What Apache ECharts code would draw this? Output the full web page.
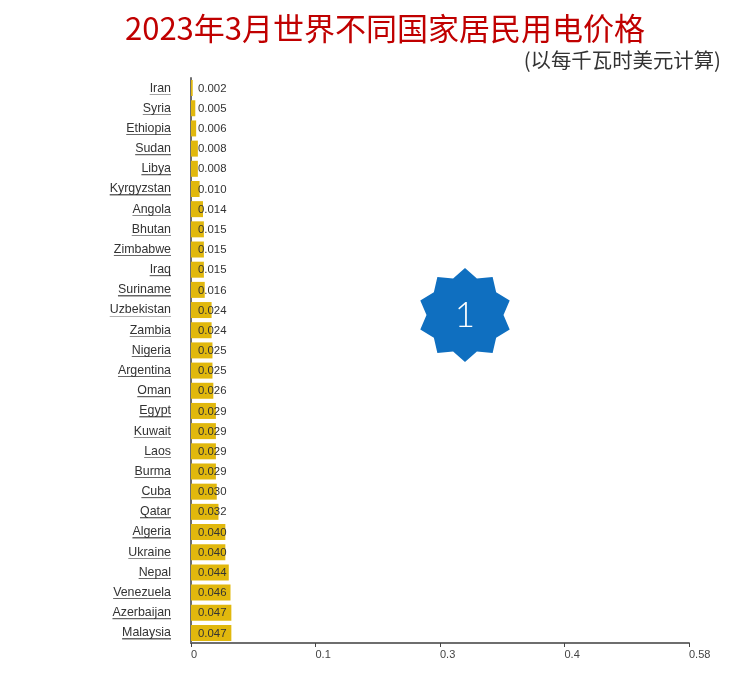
<!DOCTYPE html>
<html>
<head>
<meta charset="utf-8">
<title>2023年3月世界不同国家居民用电价格</title>
<style>
  html, body { margin: 0; padding: 0; background: #fff; }
  #main { width: 750px; height: 678px; }
</style>
<script src="https://cdn.jsdelivr.net/npm/echarts@6/dist/echarts.min.js"></script>
</head>
<body>
<div id="main"></div>
<script>
var countries = ['Iran', 'Syria', 'Ethiopia', 'Sudan', 'Libya', 'Kyrgyzstan', 'Angola', 'Bhutan', 'Zimbabwe', 'Iraq',
  'Suriname', 'Uzbekistan', 'Zambia', 'Nigeria', 'Argentina', 'Oman', 'Egypt', 'Kuwait', 'Laos', 'Burma',
  'Cuba', 'Qatar', 'Algeria', 'Ukraine', 'Nepal', 'Venezuela', 'Azerbaijan', 'Malaysia'];
var prices = [0.002, 0.005, 0.006, 0.008, 0.008, 0.010, 0.014, 0.015, 0.015, 0.015,
  0.016, 0.024, 0.024, 0.025, 0.025, 0.026, 0.029, 0.029, 0.029, 0.029,
  0.030, 0.032, 0.040, 0.040, 0.044, 0.046, 0.047, 0.047];
// the source rounds its evenly spaced ticks (0.145 apart)
var tickLabels = ['0', '0.1', '0.3', '0.4', '0.58'];

var titleText = '2023年3月世界不同国家居民用电价格';
var subtitleText = '(以每千瓦时美元计算)';

// ten pointed badge
var badgePoints = [];
for (var i = 0; i < 20; i++) {
  var r = i % 2 == 0 ? 47 : 38.5;
  var a = i * Math.PI / 10;
  badgePoints.push([r * Math.sin(a), -r * Math.cos(a)]);
}

var chart = echarts.init(document.getElementById('main'));
chart.setOption({
  animation: false,
  backgroundColor: '#fff',
  title: [
    { text: titleText, left: 380, top: 8, textAlign: 'center',
      textStyle: { color: '#C00000', fontSize: 31, fontWeight: 'normal', fontFamily: 'Noto Sans CJK SC' } },
    { text: subtitleText, right: 24, top: 45,
      textStyle: { color: '#333', fontSize: 20.4, fontWeight: 'normal', fontFamily: 'Noto Sans CJK SC' } }
  ],
  grid: { left: 191, right: 61, top: 78, bottom: 35 },
  xAxis: {
    type: 'value',
    min: 0,
    max: 0.58,
    interval: 0.145,
    splitLine: { show: false },
    axisLine: { show: true, lineStyle: { color: '#6e6e6e', width: 2 } },
    axisTick: { show: true, length: 4, lineStyle: { color: '#444', width: 1 } },
    axisLabel: {
      color: '#444',
      fontSize: 11,
      fontFamily: 'Liberation Sans',
      align: 'left',
      margin: 6,
      formatter: function (v) { return tickLabels[Math.round(v / 0.145)]; }
    }
  },
  yAxis: {
    type: 'category',
    inverse: true,
    data: countries,
    axisLine: { show: true, lineStyle: { color: '#6e6e6e', width: 2 } },
    axisTick: { show: false },
    axisLabel: {
      color: '#333',
      fontSize: 12.4,
      fontFamily: 'Liberation Sans',
      margin: 20,
      interval: 0,
      padding: [0, 0, 1, 0],
      // underline under each name
      backgroundColor: new echarts.graphic.LinearGradient(0, 0, 0, 1, [
        { offset: 0, color: 'rgba(0,0,0,0)' },
        { offset: 0.92, color: 'rgba(0,0,0,0)' },
        { offset: 0.92, color: '#666' },
        { offset: 1, color: '#666' }
      ])
    }
  },
  series: [{
    type: 'bar',
    data: prices,
    barWidth: 16,
    itemStyle: { color: '#E1B80D' },
    label: {
      show: true,
      position: [7, 3],
      color: '#333',
      fontSize: 11.4,
      fontFamily: 'Liberation Sans',
      formatter: function (p) { return p.value.toFixed(3); }
    }
  }],
  graphic: [
    { type: 'polygon', x: 465, y: 315, shape: { points: badgePoints }, style: { fill: '#0F6FC0' } },
    { type: 'text', x: 465, y: 316, style: { text: '1', fill: '#fff', fontSize: 35, fontWeight: 300,
        fontFamily: 'Lato', align: 'center', verticalAlign: 'middle' } }
  ]
});
</script>
</body>
</html>
